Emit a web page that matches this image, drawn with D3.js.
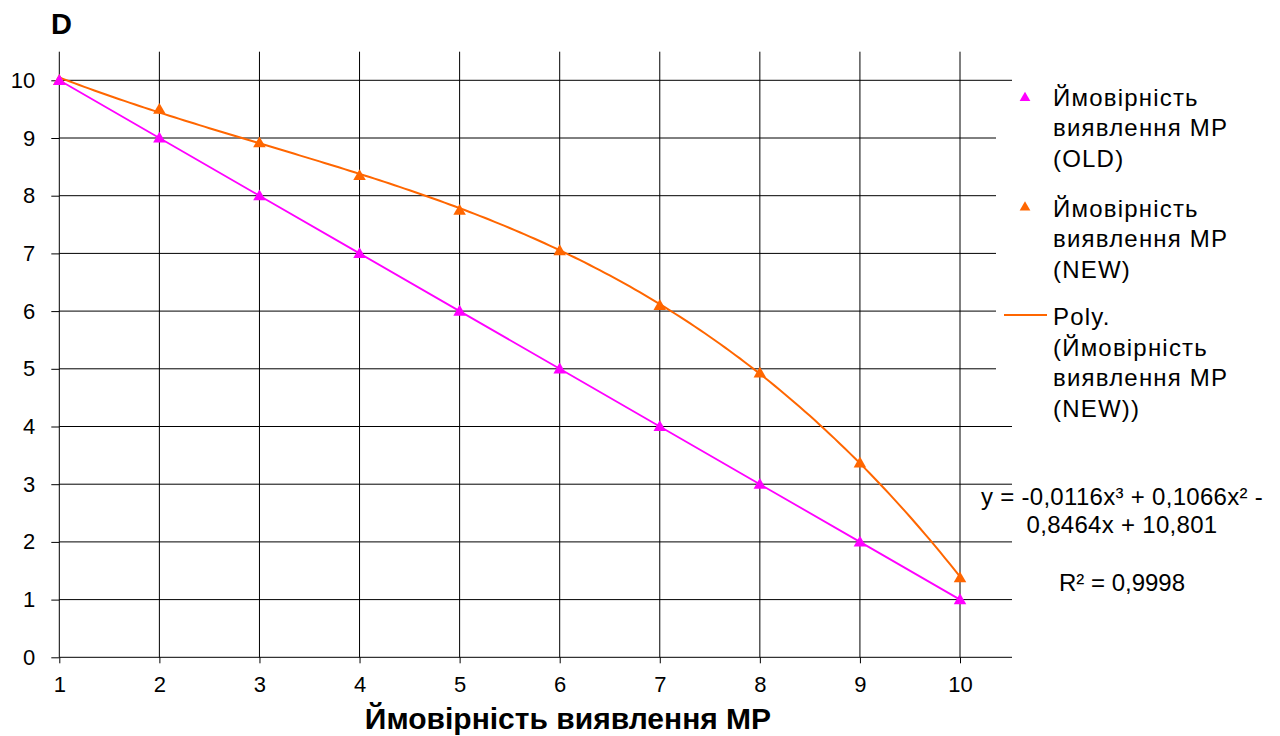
<!DOCTYPE html>
<html>
<head>
<meta charset="utf-8">
<script src="https://cdn.jsdelivr.net/npm/d3@7/dist/d3.min.js"></script>
<style>
  html, body { margin: 0; padding: 0; background: #ffffff; }
  svg { display: block; font-family: "Liberation Sans", Arial, sans-serif; }
</style>
</head>
<body>
<script>
// ---- data ----
const categories = [1, 2, 3, 4, 5, 6, 7, 8, 9, 10];
const oldValues = [10, 9, 8, 7, 6, 5, 4, 3, 2, 1];
const newValues = [10, 9.5, 8.92, 8.35, 7.75, 7.05, 6.1, 4.93, 3.37, 1.38];
const yTicks = [0, 1, 2, 3, 4, 5, 6, 7, 8, 9, 10];
// cubic trend for the NEW series: a3*x^3 + a2*x^2 + a1*x + a0
const polyCoefficients = [-0.0116, 0.1066, -0.8464, 10.801];
const rSquared = 0.9998;

const chartTitle = "D";
const xAxisTitle = "Ймовірність виявлення МР";
const legendOld = ["Ймовірність", "виявлення МР", "(OLD)"];
const legendNew = ["Ймовірність", "виявлення МР", "(NEW)"];
const legendPoly = ["Poly.", "(Ймовірність", "виявлення МР", "(NEW))"];

// ---- layout ----
const W = 1280, H = 736;
const plot = { left: 59.3, right: 1012, top: 51.7, bottom: 657.3 };
const colOld = "#FF00FF", colNew = "#FF6600";

const svg = d3.select("body").append("svg").attr("width", W).attr("height", H);
svg.append("rect").attr("width", W).attr("height", H).attr("fill", "#fff");

const x = d3.scaleLinear().domain([1, 10]).range([plot.left, 960]);
const y = d3.scaleLinear().domain([0, 10]).range([plot.bottom, 80.3]);

// gridlines
const grid = svg.append("g").attr("stroke", "#000").attr("stroke-width", 1);
grid.selectAll("line.h").data(yTicks).join("line")
  .attr("class", "h")
  .attr("x1", plot.left).attr("x2", plot.right)
  .attr("y1", d => y(d)).attr("y2", d => y(d));
grid.selectAll("line.v").data(categories).join("line")
  .attr("class", "v")
  .attr("x1", d => x(d)).attr("x2", d => x(d))
  .attr("y1", plot.top).attr("y2", plot.bottom);

// axes (ticks and labels)
const yAxis = svg.append("g")
  .attr("transform", `translate(${plot.left},0)`)
  .call(d3.axisLeft(y).tickValues(yTicks).tickSize(8).tickPadding(16).tickFormat(d3.format("d")));
const xAxis = svg.append("g")
  .attr("transform", `translate(0,${plot.bottom})`)
  .call(d3.axisBottom(x).tickValues(categories).tickSize(6).tickPadding(13).tickFormat(d3.format("d")));
[yAxis, xAxis].forEach(a => {
  a.select(".domain").remove();
  a.selectAll(".tick line").attr("stroke", "#000");
  a.selectAll(".tick text").attr("fill", "#000").style("font-size", "22px")
    .style("font-family", '"Liberation Sans", Arial, sans-serif');
});

// legend background
svg.append("rect").attr("x", 996).attr("y", 84).attr("width", 284).attr("height", 340).attr("fill", "#fff");

// OLD series: line with triangle markers
const lineGen = d3.line().x(d => x(d[0])).y(d => y(d[1]));
svg.append("path")
  .datum(categories.map((c, i) => [c, oldValues[i]]))
  .attr("d", lineGen).attr("fill", "none")
  .attr("stroke", colOld).attr("stroke-width", 1.8);

// polynomial trend of NEW series
const poly = v => ((polyCoefficients[0] * v + polyCoefficients[1]) * v + polyCoefficients[2]) * v + polyCoefficients[3];
const trendPts = d3.range(1, 10.0001, 0.05).map(v => [v, poly(v)]);
svg.append("path")
  .datum(trendPts)
  .attr("d", lineGen).attr("fill", "none")
  .attr("stroke", colNew).attr("stroke-width", 2);

const tri = d3.symbol().type(d3.symbolTriangle).size(68);
svg.append("g").selectAll("path").data(categories).join("path")
  .attr("transform", (c, i) => `translate(${x(c)},${y(newValues[i]) + 1})`)
  .attr("d", tri).attr("fill", colNew);
svg.append("g").selectAll("path").data(categories).join("path")
  .attr("transform", (c, i) => `translate(${x(c)},${y(oldValues[i]) + 1})`)
  .attr("d", tri).attr("fill", colOld);

// chart title
svg.append("text").attr("x", 51).attr("y", 34)
  .style("font-size", "29px").style("font-weight", "bold").attr("fill", "#000")
  .text(chartTitle);

// x axis title
svg.append("text").attr("x", 568).attr("y", 729).attr("text-anchor", "middle")
  .style("font-size", "30px").style("font-weight", "bold").attr("fill", "#000")
  .text(xAxisTitle);

// legend
const legTextX = 1053, lineH = 30.7;
function legendBlock(lines, baseY) {
  const t = svg.append("text").attr("x", legTextX).attr("y", baseY)
    .style("font-size", "24px").style("letter-spacing", "1.2px").attr("fill", "#000");
  lines.forEach((s, i) => t.append("tspan").attr("x", legTextX).attr("y", baseY + i * lineH).text(s));
}
const legTri = d3.symbol().type(d3.symbolTriangle).size(50);
svg.append("path").attr("transform", "translate(1025,98)").attr("d", legTri).attr("fill", colOld);
legendBlock(legendOld, 105.7);
svg.append("path").attr("transform", "translate(1025,207.5)").attr("d", legTri).attr("fill", colNew);
legendBlock(legendNew, 216.7);
svg.append("line").attr("x1", 1004).attr("x2", 1047).attr("y1", 315).attr("y2", 315)
  .attr("stroke", colNew).attr("stroke-width", 2);
legendBlock(legendPoly, 325);

// trend equation label
const fmt = v => d3.format(".4~f")(Math.abs(v)).replace(".", ",");
const sgn = v => (v < 0 ? "-" : "+");
const [a3, a2, a1, a0] = polyCoefficients;
const eqLines = [
  `y = ${a3 < 0 ? "-" : ""}${fmt(a3)}x³ ${sgn(a2)} ${fmt(a2)}x² ${sgn(a1)}`,
  `${fmt(a1)}x ${sgn(a0)} ${fmt(a0)}`
];
const eqBase = [505, 533];
eqLines.forEach((s, i) => {
  svg.append("text").attr("x", 1122).attr("y", eqBase[i]).attr("text-anchor", "middle")
    .style("font-size", "24px").style("letter-spacing", "0.3px").attr("fill", "#000").text(s);
});
svg.append("text").attr("x", 1122).attr("y", 590.5).attr("text-anchor", "middle")
  .style("font-size", "24px").attr("fill", "#000")
  .text(`R² = ${fmt(rSquared)}`);
</script>
</body>
</html>
